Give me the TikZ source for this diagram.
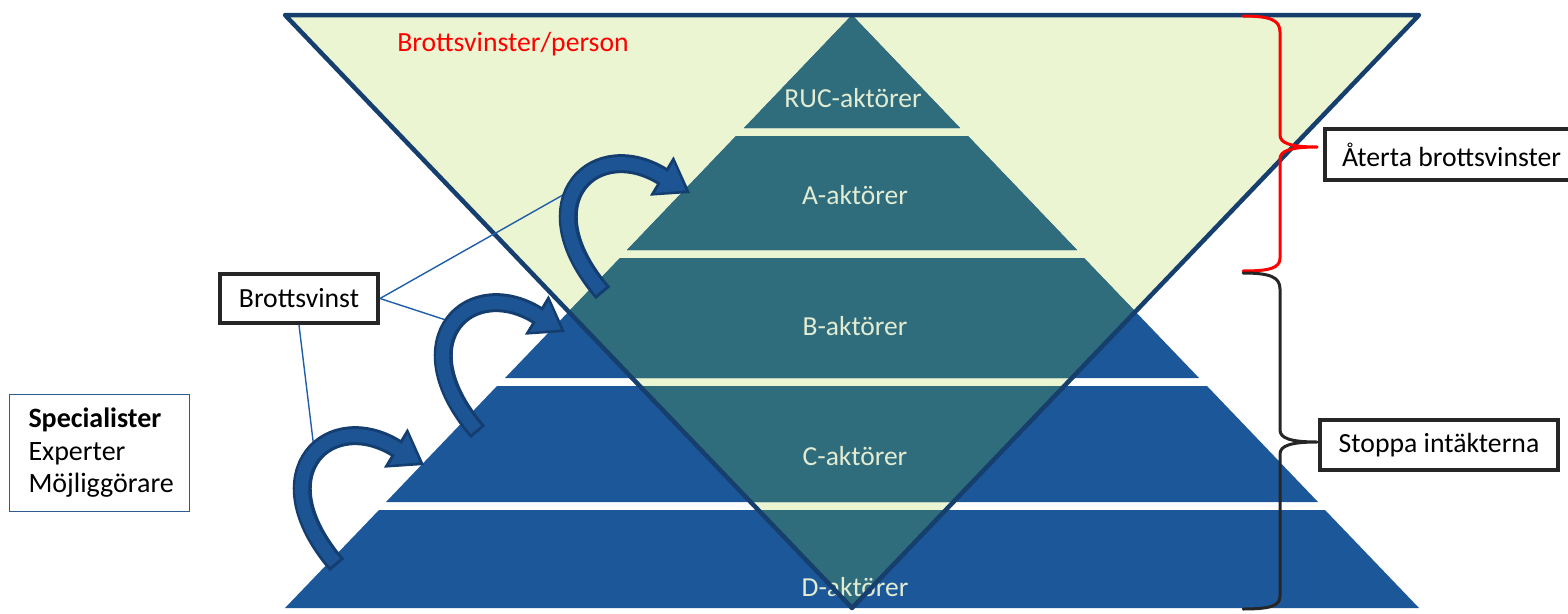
\documentclass[tikz,border=0pt]{standalone}
\usepackage{fontspec}
\setmainfont{Carlito}
\usetikzlibrary{arrows.meta, positioning}

\definecolor{lightgreen}{RGB}{235,245,210}
\definecolor{pyrblue}{RGB}{28,88,153}
\definecolor{pyrteal}{RGB}{47,108,124}
\definecolor{edgenavy}{RGB}{22,63,110}
\definecolor{labelgreen}{RGB}{226,236,210}
\definecolor{arrowblue}{RGB}{28,84,148}
\definecolor{arrowedge}{RGB}{20,62,112}
\definecolor{linkblue}{RGB}{31,94,168}
\definecolor{notebox}{RGB}{46,90,145}
\definecolor{bracegray}{RGB}{38,38,38}

\begin{document}
\begin{tikzpicture}[x=1pt, y=-1pt,
    level/.style={text=labelgreen, font=\fontsize{27.5}{32}\selectfont},
    infobox/.style={draw=black!85, line width=4pt, fill=white, font=\fontsize{27.7}{33}\selectfont, inner sep=0pt},
    link/.style={draw=linkblue, line width=1.4pt},
    curvearrow/.style={draw=arrowedge, line width=19pt, -{Triangle[length=33pt, width=46pt, line width=0pt]},
        postaction={draw=arrowblue, line width=13pt, shorten <=3pt, shorten >=5pt, -{Triangle[length=25pt, width=36pt, line width=0pt]}}},
    bracket/.style={line width=3pt, line cap=round, line join=round}]

    \useasboundingbox (0,0) rectangle (1568,613);

    % inverted triangle
    \fill[lightgreen] (285,15) -- (1419,15) -- (852,608) -- cycle;

    % pyramid levels
    \fill[pyrblue] (852,15) -- (960,128) -- (744,128) -- cycle;
    \fill[pyrblue] (736,136) -- (968,136) -- (1077,250) -- (627,250) -- cycle;
    \fill[pyrblue] (620,258) -- (1084,258) -- (1199,378) -- (505,378) -- cycle;
    \fill[pyrblue] (497,386) -- (1207,386) -- (1318,502) -- (386,502) -- cycle;
    \fill[pyrblue] (379,510) -- (1325,510) -- (1419,608) -- (285,608) -- cycle;
    \begin{scope}
        \clip (285,15) -- (1419,15) -- (852,608) -- cycle;
        \fill[pyrteal] (852,15) -- (960,128) -- (744,128) -- cycle;
        \fill[pyrteal] (736,136) -- (968,136) -- (1077,250) -- (627,250) -- cycle;
        \fill[pyrteal] (620,258) -- (1084,258) -- (1199,378) -- (505,378) -- cycle;
        \fill[pyrteal] (497,386) -- (1207,386) -- (1318,502) -- (386,502) -- cycle;
        \fill[pyrteal] (379,510) -- (1325,510) -- (1419,608) -- (285,608) -- cycle;
    \end{scope}

    \node[level] (ruc)  at (853,98)  {RUC-aktörer};
    \node[level] (aakt) at (855,195) {A-aktörer};
    \node[level] (bakt) at (855,326) {B-aktörer};
    \node[level] (cakt) at (855,456) {C-aktörer};
    \node[level] (dakt) at (855,587) {D-aktörer};

    \draw[edgenavy, line width=4.5pt, line join=round] (285,15) -- (1419,15) -- (852,608) -- cycle;

    \node[text=red, font=\fontsize{27.7}{33}\selectfont] (vinstper) at (513,44) {Brottsvinster/person};

    % Brottsvinst and its links
    \node[infobox, minimum width=158pt, minimum height=49pt] (bvinst) at (299,298.5) {Brottsvinst};
    \coordinate (hitA) at (577,187);
    \coordinate (hitB) at (452,322);
    \coordinate (hitC) at (315,457);
    \draw[link] (bvinst.east) -- (hitA);
    \draw[link] (bvinst.east) -- (hitB);
    \draw[link] (bvinst.south) -- (hitC);

    % curved arrows
    \draw[curvearrow, shift={(690,193)}] (-87,100) .. controls (-167,7) and (-93,-60) .. (-25,-15) -- (0,0);
    \draw[curvearrow, shift={(565,332)}] (-87,100) .. controls (-167,7) and (-93,-60) .. (-25,-15) -- (0,0);
    \draw[curvearrow, shift={(424,465)}] (-87,100) .. controls (-167,7) and (-93,-60) .. (-25,-15) -- (0,0);

    \node[draw=notebox, line width=1.5pt, minimum width=180pt, minimum height=117pt, inner xsep=19pt,
          text width=142pt, align=left, font=\fontsize{28}{32.5}\selectfont] (roles) at (99.5,453)
          {\textbf{Specialister}\\Experter\\Möjliggörare};

    % braces
    \draw[bracket, red] (1243,16) .. controls (1270,16) and (1280,20) .. (1280,32) -- (1280,135)
        .. controls (1280,143) and (1290,147) .. (1317,147)
        .. controls (1290,147) and (1280,151) .. (1280,159) -- (1280,258)
        .. controls (1280,268) and (1270,271) .. (1243,271);
    \draw[bracket, bracegray] (1243,273) .. controls (1270,273) and (1280,277) .. (1280,289) -- (1280,430)
        .. controls (1280,438) and (1290,442) .. (1317,442)
        .. controls (1290,442) and (1280,446) .. (1280,454) -- (1280,596)
        .. controls (1280,606) and (1270,609) .. (1243,609);

    \node[infobox, minimum width=253pt, minimum height=51pt] (aterta) at (1451.5,154.5) {Återta brottsvinster};
    \node[infobox, minimum width=238pt, minimum height=50pt] (stoppa) at (1439,445) {Stoppa intäkterna};

\end{tikzpicture}
\end{document}
